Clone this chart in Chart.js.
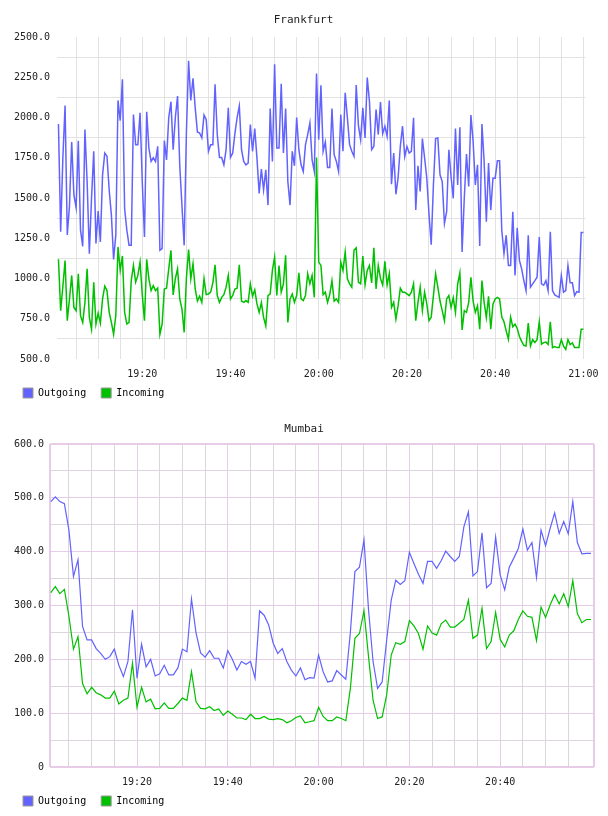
<!DOCTYPE html>
<html>
<head>
<meta charset="utf-8">
<script src="https://cdn.jsdelivr.net/npm/chart.js@4.4.1/dist/chart.umd.min.js"></script>
<style>
  html, body { margin: 0; padding: 0; background: #fff; }
  body { width: 608px; height: 816px; position: relative; overflow: hidden; }
  canvas { position: absolute; left: 0; }
  #fraChart { top: 0; }
  #mumChart { top: 408px; }
</style>
</head>
<body>
<canvas id="fraChart" width="608" height="408"></canvas>
<canvas id="mumChart" width="608" height="408"></canvas>
<script>
// x values are minutes after 19:00
const fraStart = 1;    // 19:01
const fraStep = 0.5;   // one sample every 30 s
const fraOutgoing = [
  1960, 1290, 1750, 2075, 1270, 1450, 1848, 1519, 1440, 1856, 1300, 1200, 1925, 1600, 1154, 1500, 1790, 1217, 1419, 1227,
  1644, 1779, 1760, 1550, 1394, 1119, 1269, 2106, 1981, 2237, 1435, 1300, 1206, 1206, 2019, 1831, 1831, 2029, 1600, 1258,
  2035, 1810, 1727, 1750, 1727, 1821, 1175, 1185, 1856, 1737, 1998, 2098, 1800, 2000, 2133, 1700, 1450, 1206, 1900, 2352,
  2106, 2244, 2060, 1910, 1904, 1873, 2015, 1987, 1790, 1831, 1831, 2206, 1894, 1752, 1752, 1706, 1800, 2060, 1752, 1779,
  1900, 2000, 2071, 1800, 1727, 1706, 1717, 1956, 1790, 1931, 1748, 1529, 1680, 1550, 1675, 1456, 2056, 1727, 2331, 1810,
  1810, 2210, 1779, 2056, 1602, 1456, 1790, 1700, 2000, 1800, 1706, 1665, 1831, 1894, 1967, 1737, 1665, 2273, 1862, 2200,
  1790, 1848, 1690, 1690, 2056, 1769, 1727, 1665, 2019, 1790, 2154, 1998, 1831, 1790, 1758, 2202, 1950, 1862, 2060, 1873,
  2248, 2100, 1800, 1821, 2050, 1894, 2096, 1900, 1946, 1883, 2106, 1585, 1779, 1523, 1627, 1821, 1946, 1758, 1820, 1779,
  1790, 1998, 1425, 1700, 1540, 1869, 1750, 1623, 1400, 1210, 1580, 1869, 1873, 1644, 1602, 1342, 1415, 1800, 1633, 1498,
  1931, 1581, 1940, 1165, 1500, 1773, 1571, 2015, 1852, 1581, 1706, 1202, 1960, 1727, 1352, 1717, 1425, 1623, 1623, 1731,
  1731, 1300, 1154, 1269, 1081, 1081, 1415, 1019, 1315, 1112, 1060, 987, 925, 1269, 946, 967, 987, 1008, 1258, 967,
  958, 987, 925, 1290, 925, 898, 890, 883, 1019, 915, 925, 1081, 973, 973, 894, 919, 915, 1285, 1285
];
const fraIncoming = [
  1119, 800, 950, 1112, 738, 873, 1019, 820, 800, 1029, 769, 727, 850, 1060, 758, 685, 977, 717, 785, 723,
  873, 952, 925, 790, 727, 654, 769, 1196, 1050, 1140, 790, 717, 727, 987, 1081, 977, 1019, 1102, 900, 738,
  1119, 998, 925, 956, 925, 940, 654, 717, 935, 940, 1060, 1175, 898, 1000, 1060, 873, 810, 665, 1000, 1180,
  998, 1092, 935, 860, 890, 852, 998, 900, 904, 915, 973, 1085, 894, 852, 883, 900, 946, 1019, 873, 895,
  935, 940, 1085, 860, 852, 863, 852, 967, 890, 930, 842, 790, 850, 758, 706, 894, 904, 1050, 1133, 894,
  1081, 915, 967, 1144, 727, 873, 904, 852, 894, 1035, 873, 863, 894, 1029, 967, 1019, 883, 1752, 1102, 1081,
  900, 915, 852, 900, 987, 860, 873, 852, 1102, 1050, 1165, 998, 967, 946, 1175, 1190, 977, 967, 1140, 960,
  1050, 1081, 973, 1190, 935, 1081, 1000, 960, 1106, 960, 1030, 821, 852, 748, 831, 940, 915, 915, 904, 894,
  915, 967, 738, 850, 946, 800, 915, 842, 738, 760, 894, 1029, 946, 860, 800, 738, 873, 894, 821, 880,
  790, 967, 1035, 680, 800, 790, 852, 1008, 860, 790, 830, 685, 987, 852, 758, 890, 685, 840, 873, 883,
  873, 760, 731, 675, 623, 760, 700, 717, 690, 640, 610, 585, 581, 723, 581, 620, 602, 620, 731, 592,
  602, 605, 590, 731, 571, 577, 571, 571, 619, 580, 560, 620, 590, 600, 571, 571, 571, 685, 685
];

const mumStart = 1;    // 19:01
const mumStep = 1;     // one sample per minute
const mumOutgoing = [
  493, 502, 493, 489, 440, 354, 385, 261, 236, 236, 220, 211, 200, 205, 219, 189, 168, 196, 292, 165,
  228, 186, 200, 169, 173, 189, 171, 171, 184, 219, 214, 312, 249, 212, 204, 216, 202, 202, 184, 216,
  200, 180, 196, 191, 196, 165, 290, 282, 264, 230, 211, 220, 196, 180, 169, 184, 162, 166, 165, 208,
  177, 158, 160, 179, 171, 163, 250, 363, 371, 422, 292, 196, 146, 158, 236, 310, 347, 339, 346, 399,
  378, 358, 341, 382, 382, 369, 383, 401, 391, 382, 391, 446, 474, 355, 363, 435, 333, 341, 427, 357,
  329, 371, 388, 406, 442, 403, 417, 352, 440, 411, 443, 472, 434, 456, 433, 493, 417, 396, 397, 397
];
const mumIncoming = [
  324, 335, 322, 330, 280, 219, 242, 155, 136, 148, 138, 134, 128, 128, 141, 117, 124, 128, 193, 111,
  148, 121, 126, 108, 109, 119, 109, 109, 118, 128, 124, 177, 121, 109, 108, 112, 105, 108, 96, 104,
  98, 91, 91, 88, 98, 90, 90, 94, 89, 88, 90, 88, 82, 86, 92, 95, 82, 84, 86, 111,
  94, 86, 86, 93, 90, 86, 146, 239, 248, 290, 205, 124, 90, 93, 134, 208, 231, 228, 233, 272,
  262, 248, 219, 262, 249, 245, 266, 273, 260, 260, 267, 274, 310, 239, 245, 295, 220, 233, 287, 237,
  223, 245, 253, 274, 290, 280, 278, 235, 297, 278, 301, 320, 303, 322, 298, 346, 285, 268, 274, 274
];

const fraTimeLabels = ['19:20', '19:40', '20:00', '20:20', '20:40', '21:00'];
const mumTimeLabels = ['19:20', '19:40', '20:00', '20:20', '20:40'];
const fraYTicks = [500, 750, 1000, 1250, 1500, 1750, 2000, 2250, 2500];
const mumYTicks = [0, 100, 200, 300, 400, 500, 600];

const MONO = "'DejaVu Sans Mono', monospace";
const BLUE = '#6262ff';
const GREEN = '#00c000';

function toPoints(values, start, step) {
    return values.map((v, i) => ({ x: start + i * step, y: v }));
}

function hhmm(min) {
    const t = Math.round(min);
    const h = 19 + Math.floor(t / 60);
    const m = t % 60;
    return h + ':' + String(m).padStart(2, '0');
}

function makeChart(id, cfg) {
    const ctx = document.getElementById(id).getContext('2d');
    return new Chart(ctx, {
        type: 'line',
        data: {
            datasets: [
                { label: 'Outgoing', data: cfg.outgoing, borderColor: BLUE, backgroundColor: BLUE, borderWidth: cfg.lineWidth },
                { label: 'Incoming', data: cfg.incoming, borderColor: GREEN, backgroundColor: GREEN, borderWidth: cfg.lineWidth }
            ]
        },
        options: {
            responsive: false,
            animation: false,
            events: [],
            elements: { point: { radius: 0 }, line: { tension: 0, fill: false } },
            layout: { padding: { top: 0, left: 14, right: cfg.padRight, bottom: cfg.padBottom } },
            plugins: {
                tooltip: { enabled: false },
                title: {
                    display: true,
                    text: cfg.title,
                    color: '#222',
                    font: { family: MONO, size: 11, weight: 'normal' },
                    padding: cfg.titlePad
                },
                legend: {
                    display: true,
                    position: 'bottom',
                    align: 'start',
                    labels: {
                        boxWidth: 10,
                        boxHeight: 10,
                        padding: 9,
                        color: '#222',
                        font: { family: MONO, size: 10 },
                        // trailing space keeps the wider gap between the two entries
                        generateLabels: chart => chart.data.datasets.map((ds, i) => ({
                            text: ds.label + ' ',
                            fillStyle: ds.borderColor,
                            strokeStyle: '#999',
                            lineWidth: 1,
                            hidden: false,
                            datasetIndex: i
                        }))
                    }
                }
            },
            scales: {
                x: {
                    type: 'linear',
                    min: cfg.xMin,
                    max: cfg.xMax,
                    border: { display: false },
                    grid: {
                        drawTicks: false,
                        color: c => cfg.xGridColor(c.tick.value),
                        lineWidth: c => cfg.xGridWidth(c.tick.value)
                    },
                    ticks: {
                        autoSkip: false,
                        maxRotation: 0,
                        padding: 9.5,
                        color: '#222',
                        font: { family: MONO, size: 10 },
                        callback: function (value) {
                            const s = hhmm(value);
                            return (value % 20 === 0 && cfg.timeLabels.includes(s)) ? s : '';
                        }
                    },
                    afterBuildTicks: axis => { axis.ticks = cfg.xTicks.map(v => ({ value: v })); },
                    afterFit: axis => { axis.height = cfg.xAxisHeight; }
                },
                y: {
                    min: cfg.yMin,
                    max: cfg.yMax,
                    border: { display: false },
                    grid: {
                        drawTicks: false,
                        color: c => cfg.yGridColor(c.tick.value),
                        lineWidth: c => cfg.yGridWidth(c.tick.value)
                    },
                    ticks: {
                        autoSkip: false,
                        padding: cfg.yPad,
                        color: '#222',
                        font: { family: MONO, size: 10 },
                        callback: function (value) {
                            return cfg.yTicks.includes(value) ? cfg.yFormat(value) : '';
                        }
                    },
                    afterBuildTicks: axis => { axis.ticks = cfg.yGrid.map(v => ({ value: v })); },
                    afterFit: axis => { axis.width = cfg.yAxisWidth; }
                }
            }
        }
    });
}

// grid positions every 5 minutes
const fraXTicks = [];
for (let m = 5; m <= 120; m += 5) fraXTicks.push(m);
const fraYGrid = fraYTicks.concat(fraYTicks.slice(1).map(v => v - 125)).sort((a, b) => a - b);

makeChart('fraChart', {
    title: 'Frankfurt',
    titlePad: { top: 13.4, bottom: 10.4 },
    outgoing: toPoints(fraOutgoing, fraStart, fraStep),
    incoming: toPoints(fraIncoming, fraStart, fraStep),
    lineWidth: 1.5,
    padRight: 15,
    padBottom: 0,
    xMin: 0.67, xMax: 120.45,
    xTicks: fraXTicks,
    timeLabels: fraTimeLabels,
    xGridColor: () => '#e2e2e2',
    xGridWidth: () => 1,
    xAxisHeight: 20,
    yMin: 500, yMax: 2500,
    yTicks: fraYTicks,
    yGrid: fraYGrid,
    yFormat: v => v.toFixed(1),
    yGridColor: v => (v % 250 === 0 ? 'rgba(0,0,0,0)' : '#e2e2e2'),
    yGridWidth: () => 1,
    yPad: 7,
    yAxisWidth: 43
});

const mumXMin = 0.83, mumXMax = 120.67;
const mumXTicks = [mumXMin];
for (let m = 5; m <= 115; m += 5) mumXTicks.push(m);
mumXTicks.push(mumXMax);
const mumYGrid = [];
for (let v = 0; v <= 600; v += 50) mumYGrid.push(v);

makeChart('mumChart', {
    title: 'Mumbai',
    titlePad: { top: 14.4, bottom: 8.4 },
    outgoing: toPoints(mumOutgoing, mumStart, mumStep),
    incoming: toPoints(mumIncoming, mumStart, mumStep),
    lineWidth: 1.2,
    padRight: 14,
    padBottom: 0,
    xMin: mumXMin, xMax: mumXMax,
    xTicks: mumXTicks,
    timeLabels: mumTimeLabels,
    xGridColor: v => ((v % 20 === 0 || v === mumXMin || v === mumXMax) ? '#e6cce6' : '#ddd5dd'),
    xGridWidth: v => ((v === mumXMin || v === mumXMax) ? 2 : 1),
    xAxisHeight: 20,
    yMin: 0, yMax: 600,
    yTicks: mumYTicks,
    yGrid: mumYGrid,
    yFormat: v => (v === 0 ? '0' : v.toFixed(1)),
    yGridColor: v => (v % 100 === 0 ? '#e6cce6' : '#ddd5dd'),
    yGridWidth: v => ((v === 0 || v === 600) ? 2 : 1),
    yPad: 6,
    yAxisWidth: 36
});
</script>
</body>
</html>
